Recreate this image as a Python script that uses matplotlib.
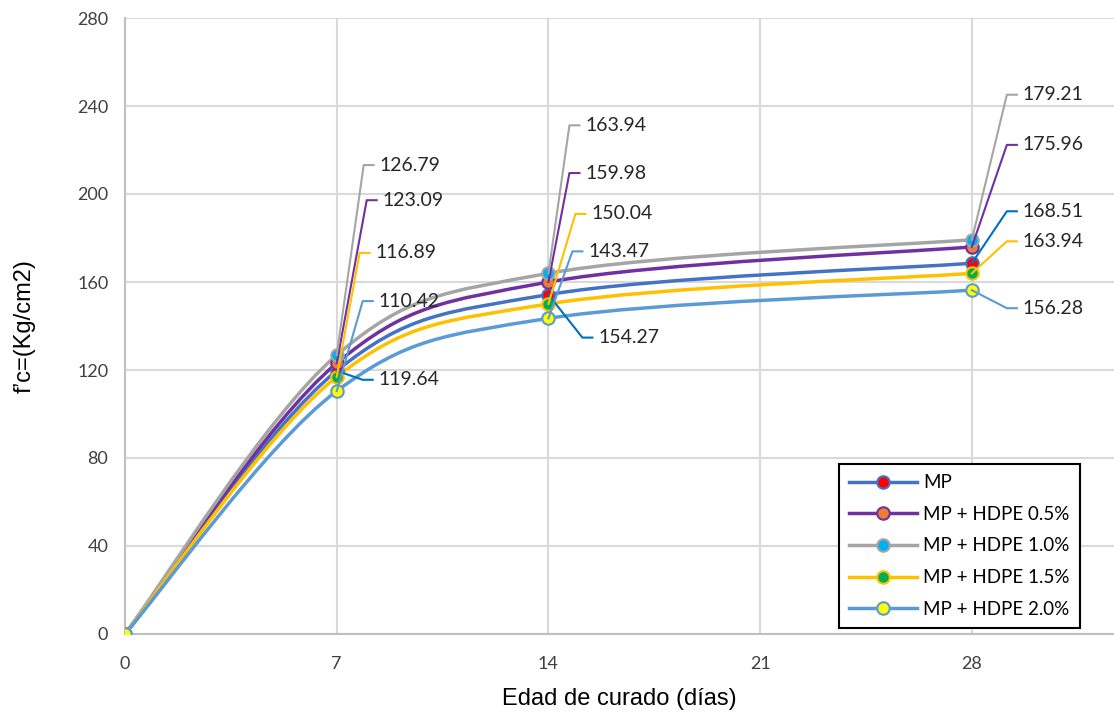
import numpy as np
import matplotlib.pyplot as plt
from matplotlib.path import Path
from matplotlib.patches import PathPatch
from matplotlib.lines import Line2D
from matplotlib.transforms import IdentityTransform

# data
dias = [0, 7, 14, 28]
series = ["MP", "MP + HDPE 0.5%", "MP + HDPE 1.0%", "MP + HDPE 1.5%", "MP + HDPE 2.0%"]
mp = [0, 119.64, 154.27, 168.51]
hdpe05 = [0, 123.09, 159.98, 175.96]
hdpe10 = [0, 126.79, 163.94, 179.21]
hdpe15 = [0, 116.89, 150.04, 163.94]
hdpe20 = [0, 110.42, 143.47, 156.28]
valores = [mp, hdpe05, hdpe10, hdpe15, hdpe20]

line_col = ["#4472C4", "#7030A0", "#A5A5A5", "#FFC000", "#5B9BD5"]
mark_col = ["#FF0000", "#ED7D31", "#00B0F0", "#00B050", "#FFFF00"]
leader_col = ["#0070C0", "#7030A0", "#A5A5A5", "#FFC000", "#5B9BD5"]

# label offsets in pixels (dx, dy) for points at day 7, 14, 28
offsets = [
    [(42, -9), (50, -43), (51, 52)],
    [(46, 163), (37, 109), (51, 102)],
    [(43, 190), (37, 148), (51, 145)],
    [(39, 124), (43, 90), (51, 32)],
    [(42, 90), (40, 67), (51, -18)],
]

W, H = 1114, 716
fig = plt.figure(figsize=(W / 100, H / 100), dpi=100)
ax = fig.add_axes([125 / W, 1 - 634 / H, (W - 125) / W, (634 - 18) / H])
ax.set_xlim(0, 32.7)
ax.set_ylim(0, 280)
ax.set_xticks([0, 7, 14, 21, 28])
ax.set_yticks(range(0, 281, 40))
ax.grid(color="#D9D9D9", lw=1.5)
ax.set_axisbelow(True)
for s in ["top", "right"]:
    ax.spines[s].set_visible(False)
for s in ["left", "bottom"]:
    ax.spines[s].set_color("#BFBFBF")
    ax.spines[s].set_linewidth(1.5)
ax.tick_params(length=0, labelsize=13, colors="#404040")
ax.tick_params(axis="x", pad=16)
ax.tick_params(axis="y", pad=12)
for lab in ax.get_xticklabels() + ax.get_yticklabels():
    lab.set_family("Lato")
ax.set_xlabel("Edad de curado (días)", fontsize=17, family="Liberation Sans", labelpad=11)
ax.set_ylabel("f’c=(Kg/cm2)", fontsize=17, family="Liberation Sans", labelpad=30)


def smooth_path(x, y):
    pts = np.column_stack([x, y]).astype(float)
    n = len(pts)
    verts = [pts[0]]
    codes = [Path.MOVETO]
    for i in range(n - 1):
        p0 = pts[max(i - 1, 0)]
        p1 = pts[i]
        p2 = pts[i + 1]
        p3 = pts[min(i + 2, n - 1)]
        c1 = p1 + (p2 - p0) / 6
        c2 = p2 - (p3 - p1) / 6
        verts += [c1, c2, p2]
        codes += [Path.CURVE4] * 3
    return Path(verts, codes)


handles = []
for k in range(len(series)):
    y = valores[k]
    ax.add_patch(PathPatch(smooth_path(dias, y), fc="none", ec=line_col[k], lw=2.5, zorder=3))
    ax.plot(dias, y, ls="none", marker="o", ms=9, mfc=mark_col[k], mec=line_col[k], mew=1.5, zorder=4)
    handles.append(Line2D([], [], color=line_col[k], lw=2.5, marker="o", ms=9,
                          mfc=mark_col[k], mec=line_col[k], mew=1.5))

# data labels with leader lines
for k in range(len(series)):
    for j, d in enumerate(dias[1:]):
        v = valores[k][j + 1]
        px, py = ax.transData.transform((d, v))
        dx, dy = offsets[k][j]
        tx, ty = px + dx, py + dy
        ln = Line2D([px, tx - 16, tx - 6], [py, ty, ty], color=leader_col[k], lw=1.5,
                    transform=IdentityTransform(), zorder=5)
        ax.add_artist(ln)
        fig.text(tx / W, ty / H, f"{v:.2f}", fontsize=14, family="Lato", color="#262626",
                 va="center", ha="left")

leg = ax.legend(handles, series, loc="lower right", bbox_to_anchor=((1080 - 125) / (W - 125), 6 / 616),
                frameon=True, fancybox=False, framealpha=1, handlelength=3.6, handletextpad=0.35,
                labelspacing=0.78, borderpad=0.55, borderaxespad=0,
                prop={"family": "Lato", "size": 13.5})
leg.get_frame().set_edgecolor("black")
leg.get_frame().set_linewidth(1.5)

fig.savefig("out.png", dpi=100)
